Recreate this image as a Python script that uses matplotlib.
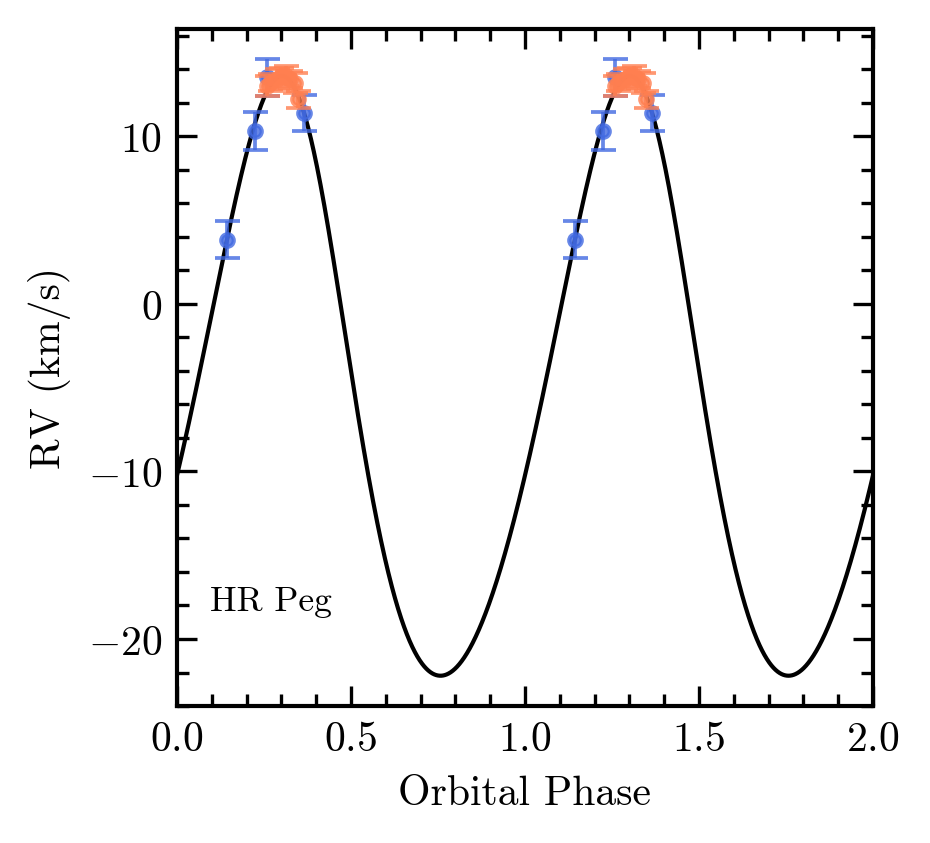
import numpy as np
import matplotlib
matplotlib.use('Agg')
import matplotlib.pyplot as plt

plt.rcParams['font.family'] = 'serif'
plt.rcParams['font.serif'] = ['cmr10']
plt.rcParams['mathtext.fontset'] = 'cm'
plt.rcParams['axes.formatter.use_mathtext'] = True
plt.rcParams['font.size'] = 10

# orbital solution (Keplerian)
gamma = -6.0    # km/s
K_amp = 17.9    # km/s
ecc = 0.118
omega = 0.629   # rad
phase_peri = 0.381

# blue RVs
ph_a = [0.143, 0.225, 0.258, 0.366]
rv_a = [3.82, 10.31, 13.53, 11.40]
er_a = [1.10, 1.12, 1.10, 1.07]

# orange RVs
ph_b = [0.258, 0.268, 0.288, 0.300, 0.312, 0.325, 0.338, 0.349]
rv_b = [13.0, 13.2, 13.4, 13.6, 13.6, 13.4, 13.2, 12.2]
er_b = [0.6, 0.5, 0.6, 0.5, 0.6, 0.5, 0.6, 0.5]


def rv_model(phase):
    M = 2 * np.pi * (phase - phase_peri)
    E = M.copy()
    for _ in range(50):
        E = M + ecc * np.sin(E)
    nu = 2 * np.arctan(np.sqrt((1 + ecc) / (1 - ecc)) * np.tan(E / 2))
    return gamma + K_amp * (np.cos(nu + omega) + ecc * np.cos(omega))


fig = plt.figure(figsize=(3.1, 2.813), dpi=300)
ax = fig.add_axes([177/930, 1 - 707/844, 696/930, 677/844])

x = np.linspace(0, 2, 2000)
ax.plot(x, rv_model(x), color='k', lw=1.0, zorder=1)

for off in (0, 1):
    ax.errorbar(np.array(ph_a) + off, rv_a, yerr=er_a, fmt='o', color='royalblue',
                ms=3, elinewidth=0.9, capsize=3, capthick=0.9, alpha=0.8, zorder=2)
    ax.errorbar(np.array(ph_b) + off, rv_b, yerr=er_b, fmt='o', color='coral',
                ms=3, elinewidth=0.9, capsize=3, capthick=0.9, alpha=0.8, zorder=3)

ax.text(0.047, 0.154, 'HR Peg', transform=ax.transAxes, fontsize=8.5,
        ha='left', va='center')

ax.set_xlim(0, 2)
ax.set_ylim(-24.0, 16.4)
ax.set_xticks([0.0, 0.5, 1.0, 1.5, 2.0])
ax.set_xticks(np.arange(0, 2.01, 0.1), minor=True)
ax.set_yticks([-20, -10, 0, 10])
ax.set_yticks(np.arange(-24, 17, 2), minor=True)
ax.xaxis.set_major_formatter(matplotlib.ticker.FormatStrFormatter('$%.1f$'))
ax.set_xlabel('Orbital Phase')
ax.set_ylabel('RV (km/s)')

for s in ax.spines.values():
    s.set_linewidth(1.0)
ax.tick_params(which='both', direction='in', top=True, right=True, width=0.8)
ax.tick_params(which='major', length=4.8)
ax.tick_params(which='minor', length=2.8)

fig.savefig('out.png', dpi=300)
